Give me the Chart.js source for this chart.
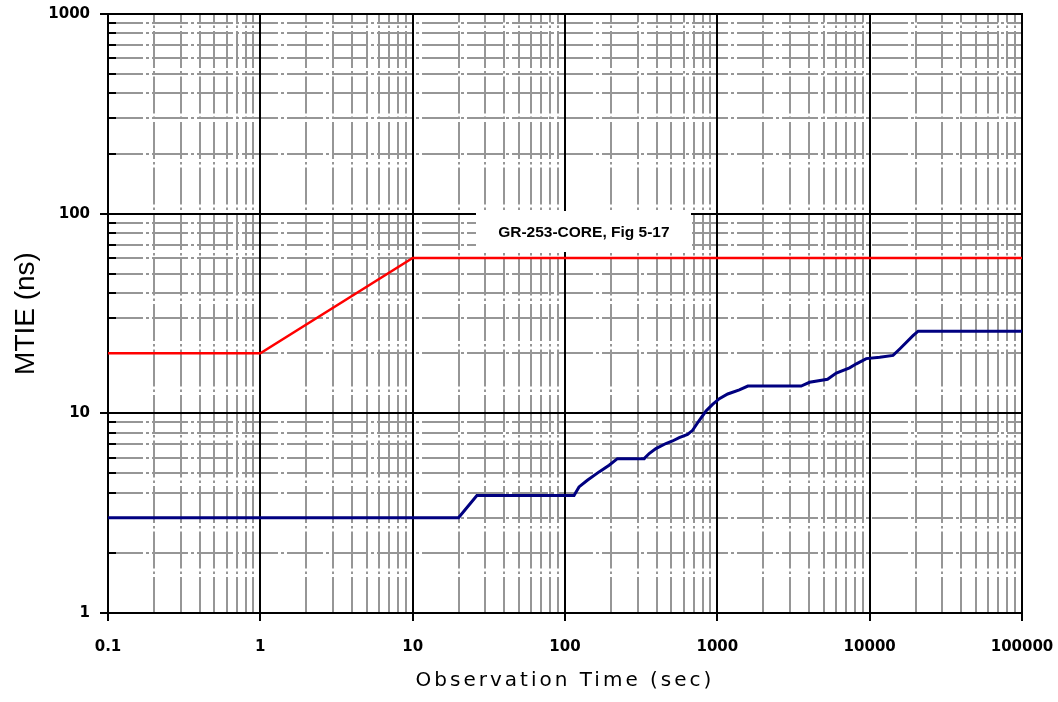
<!DOCTYPE html>
<html><head><meta charset="utf-8">
<script src="https://cdn.jsdelivr.net/npm/chart.js@4.4.1/dist/chart.umd.min.js"></script>
<style>html,body{margin:0;padding:0;background:#fff;} #wrap{width:1058px;height:702px;position:relative;}</style>
</head><body><div id="wrap"><canvas id="c"></canvas></div>
<script>
// ---- data ----
const xTickLabels = ['0.1', '1', '10', '100', '1000', '10000', '100000'];
const yTickLabels = ['1', '10', '100', '1000'];

const redX = [0.1, 1, 10, 100000];
const redY = [20, 20, 60, 60];

const blueX = [0.1, 20, 26.4, 114.6, 123.6, 140.2, 167.4, 194.8, 220.8, 331, 356.9, 395.1, 459.7, 508, 562, 637.8, 688, 761.5, 842.5, 931, 1031, 1170, 1395, 1586, 3550, 4030, 5290, 6040, 7380, 8180, 9500, 11640, 14240, 15750, 19260, 20800, 100000];
const blueY = [3, 3, 3.88, 3.88, 4.28, 4.62, 5.09, 5.5, 5.93, 5.93, 6.29, 6.66, 7.06, 7.27, 7.56, 7.85, 8.22, 9.23, 10.27, 11.09, 11.84, 12.5, 13.1, 13.7, 13.7, 14.3, 14.8, 15.9, 16.9, 17.7, 18.8, 19.1, 19.5, 21, 24.5, 25.8, 25.8];

const xTitle = 'Observation Time (sec)';
const yTitle = 'MTIE (ns)';
const noteText = 'GR-253-CORE, Fig 5-17';
const noteAt = { x: 133, y: 81 };

// ---- helpers ----
const xMajors = xTickLabels.map(Number);
const yMajors = yTickLabels.map(Number);
function decadeTicks(majors) {
  const t = [];
  for (let i = 0; i < majors.length - 1; i++) {
    for (let k = 1; k < 10; k++) t.push(Number((majors[i] * k).toPrecision(8)));
  }
  t.push(majors[majors.length - 1]);
  return t;
}
const isMaj = (list, ctx) => !!(ctx && ctx.tick && list.includes(ctx.tick.value));
const GRAY = '#969696';

function axis(majors, labels, cfg) {
  return {
    type: 'logarithmic',
    position: cfg.position,
    min: majors[0],
    max: majors[majors.length - 1],
    afterBuildTicks: s => { s.ticks = decadeTicks(majors).map(v => ({ value: v, major: majors.includes(v) })); },
    afterFit: s => {
      cfg.afterFit(s);
      s.paddingLeft = 0; s.paddingRight = 0; s.paddingTop = 0; s.paddingBottom = 0;
    },
    ticks: {
      autoSkip: false, maxRotation: 0, minRotation: 0, padding: cfg.padding, color: '#000',
      font: { family: 'DejaVu Sans', size: 15, weight: 'bold' },
      callback: v => { const i = majors.indexOf(v); return i >= 0 ? labels[i] : ''; }
    },
    grid: {
      color: ctx => isMaj(majors, ctx) ? '#000' : GRAY,
      lineWidth: 2,
      tickLength: 8,
      tickWidth: 2,
      tickColor: ctx => isMaj(majors, ctx) ? '#000' : 'rgba(0,0,0,0)'
    },
    border: {
      display: true, color: '#000', width: 2,
      dash: ctx => isMaj(majors, ctx) ? [] : cfg.dash,
      dashOffset: cfg.dashOffset
    },
    title: cfg.title
  };
}

const overlay = {
  id: 'overlay',
  beforeDraw(chart) {
    const sx = chart.scales.x;
    if (sx && !sx._lsPatched) {
      const orig = sx.drawTitle;
      sx.drawTitle = function () {
        const c = this.ctx;
        c.letterSpacing = '3px';
        orig.call(this);
        c.letterSpacing = '0px';
      };
      sx._lsPatched = true;
    }
  },
  beforeDatasetsDraw(chart) {
    const { ctx, chartArea: a, scales: { x, y } } = chart;
    ctx.save();
    ctx.strokeStyle = '#000';
    ctx.lineWidth = 2;
    ctx.setLineDash([]);
    y.ticks.forEach(t => {
      if (!yMajors.includes(t.value)) {
        const py = Math.round(y.getPixelForValue(t.value));
        ctx.beginPath(); ctx.moveTo(a.left, py); ctx.lineTo(a.left + 8, py); ctx.stroke();
      }
    });
    xMajors.forEach(v => {
      const px = Math.round(x.getPixelForValue(v));
      ctx.beginPath(); ctx.moveTo(px, a.top - 1); ctx.lineTo(px, a.bottom + 1); ctx.stroke();
    });
    yMajors.forEach(v => {
      const py = Math.round(y.getPixelForValue(v));
      ctx.beginPath(); ctx.moveTo(a.left - 1, py); ctx.lineTo(a.right + 1, py); ctx.stroke();
    });
    ctx.restore();
  },
  afterDatasetsDraw(chart) {
    const { ctx, scales: { x, y } } = chart;
    const px = x.getPixelForValue(noteAt.x), py = y.getPixelForValue(noteAt.y);
    ctx.save();
    ctx.font = 'bold 15.5px "Liberation Sans", Arial, sans-serif';
    const w = ctx.measureText(noteText).width;
    ctx.fillStyle = '#fff';
    ctx.fillRect(Math.round(px - w / 2 - 22), Math.round(py - 20.5), Math.round(w + 44), 41);
    ctx.fillStyle = '#000';
    ctx.textAlign = 'center';
    ctx.textBaseline = 'middle';
    ctx.fillText(noteText, px, py + 1);
    ctx.restore();
  }
};

const toPts = (xs, ys) => xs.map((v, i) => ({ x: v, y: ys[i] }));

new Chart(document.getElementById('c'), {
  type: 'scatter',
  data: {
    datasets: [
      { data: toPts(redX, redY), showLine: true, borderColor: '#ff0000', borderWidth: 2.5, pointRadius: 0, tension: 0, fill: false },
      { data: toPts(blueX, blueY), showLine: true, borderColor: '#000080', borderWidth: 3, pointRadius: 0, tension: 0, fill: false }
    ]
  },
  options: {
    responsive: true,
    maintainAspectRatio: false,
    devicePixelRatio: 1,
    animation: false,
    layout: { padding: { top: 14, right: 36, bottom: 0, left: 0 } },
    plugins: { legend: { display: false }, tooltip: { enabled: false } },
    scales: {
      x: axis(xMajors, xTickLabels, {
        position: 'bottom', padding: 17,
        afterFit: s => { s.height = 89; },
        dash: [37, 3, 2.5, 3], dashOffset: 28.5,
        title: { display: true, text: xTitle, color: '#000', font: { family: 'DejaVu Sans', size: 20 }, padding: { top: 0, bottom: 9 } }
      }),
      y: axis(yMajors, yTickLabels, {
        position: 'left', padding: 10,
        afterFit: s => { s.width = 108; },
        dash: [36, 3, 3, 3], dashOffset: 2,
        title: { display: true, text: yTitle, color: '#000', font: { family: 'Liberation Sans', size: 28 }, padding: { top: 9, bottom: 0 } }
      })
    }
  },
  plugins: [overlay]
});
</script>
</body></html>
